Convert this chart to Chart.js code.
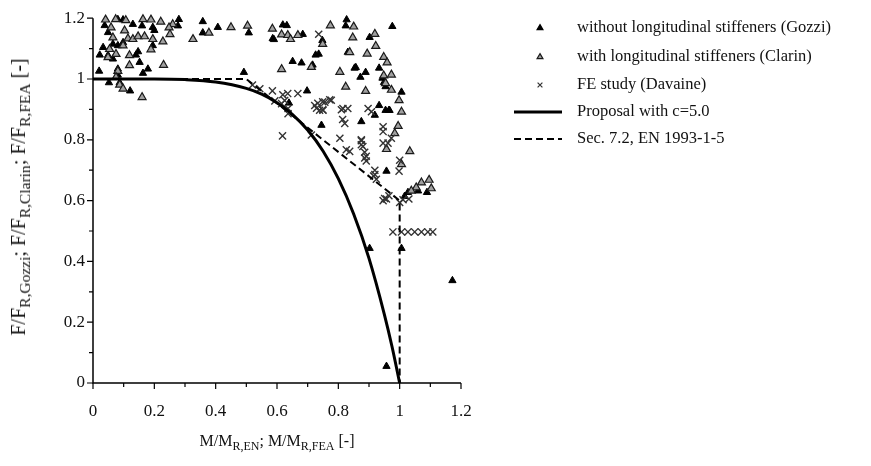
<!DOCTYPE html>
<html>
<head>
<meta charset="utf-8">
<script src="https://cdn.jsdelivr.net/npm/chart.js@4.4.1/dist/chart.umd.min.js"></script>
<style>
  body { margin: 0; background: #fff; }
  #wrap { position: relative; width: 871px; height: 466px; font-family: 'Liberation Serif', 'DejaVu Serif', serif; color: #111; }
  canvas { position: absolute; left: 0; top: 0; }
  .lbl { position: absolute; white-space: nowrap; font-size: 16px; line-height: 1; }
  .lbl sub { font-size: 12px; vertical-align: -4px; line-height: 0; }
  #ytitle { left: 18px; top: 197px; font-size: 20px; transform: translate(-50%, -50%) rotate(-90deg); }
  #ytitle sub { font-size: 15.5px; vertical-align: -5px; }
  #xtitle { left: 277px; top: 441px; transform: translate(-50%, -50%); }
  .leg { position: absolute; left: 577px; font-size: 16.5px; line-height: 1; transform: translateY(-55%); white-space: nowrap; }
</style>
</head>
<body>
<div id="wrap">
  <canvas id="chart" width="871" height="466"></canvas>
  <div id="ytitle" class="lbl">F/F<sub>R,Gozzi</sub>; F/F<sub>R,Clarin</sub>; F/F<sub>R,FEA</sub> [-]</div>
  <div id="xtitle" class="lbl">M/M<sub>R,EN</sub>; M/M<sub>R,FEA</sub> [-]</div>
</div>
<script>
// ---- data ----
const xTicks = [0, 0.2, 0.4, 0.6, 0.8, 1, 1.2];
const yTicks = [0, 0.2, 0.4, 0.6, 0.8, 1, 1.2];

// without longitudinal stiffeners (Gozzi)
const gozziX = [0.038, 0.081, 0.098, 0.13, 0.16, 0.195, 0.2, 0.28, 0.277, 0.049, 0.033, 0.022, 0.065, 0.081, 0.098,
  0.147, 0.14, 0.195, 0.152, 0.179, 0.163, 0.02, 0.081, 0.081, 0.052, 0.087, 0.121, 0.065, 0.049,
  0.358, 0.407, 0.358, 0.508, 0.492, 0.619, 0.59, 0.632, 0.586, 0.684, 0.748, 0.827, 0.824, 0.726, 0.736, 0.831,
  0.651, 0.68, 0.716, 0.853, 0.698, 0.639, 0.976, 0.902, 0.933, 0.857, 0.889, 0.872, 0.944, 1.006, 0.933, 0.967,
  0.954, 0.949, 0.954, 0.965, 0.919, 0.875, 0.957, 1.06, 1.089, 1.027, 1.016, 1.006, 1.172, 0.902, 0.957, 0.745];
const gozziY = [1.176, 1.196, 1.195, 1.18, 1.175, 1.17, 1.16, 1.196, 1.175, 1.153, 1.104, 1.079, 1.115, 1.11, 1.12,
  1.09, 1.079, 1.11, 1.055, 1.033, 1.019, 1.026, 1.033, 1.013, 0.988, 0.988, 0.961, 1.066, 1.078,
  1.189, 1.17, 1.152, 1.152, 1.022, 1.178, 1.13, 1.176, 1.133, 1.147, 1.127, 1.195, 1.175, 1.079, 1.082, 1.088,
  1.058, 1.053, 1.046, 1.036, 0.961, 0.921, 1.173, 1.137, 1.036, 1.038, 1.022, 1.006, 1.003, 0.957, 0.913, 0.897,
  0.975, 0.989, 0.897, 0.897, 0.881, 0.86, 0.697, 0.632, 0.627, 0.627, 0.614, 0.443, 0.337, 0.443, 0.055, 0.848];

// with longitudinal stiffeners (Clarin)
const clarinX = [0.041, 0.074, 0.163, 0.107, 0.189, 0.221, 0.26, 0.248, 0.251, 0.059, 0.103, 0.065, 0.114, 0.13,
  0.147, 0.168, 0.195, 0.228, 0.189, 0.326, 0.054, 0.075, 0.049, 0.119, 0.119, 0.23, 0.081, 0.075, 0.087, 0.098,
  0.16, 0.098, 0.378, 0.45, 0.504, 0.615, 0.585, 0.615, 0.635, 0.644, 0.668, 0.749, 0.774, 0.85, 0.847, 0.837,
  0.712, 0.805, 0.824, 0.919, 0.922, 0.894, 0.948, 0.959, 0.948, 0.973, 0.954, 0.889, 0.973, 0.998, 1.006, 0.995,
  0.984, 0.957, 1.033, 1.006, 1.096, 1.071, 1.103, 1.054, 1.038];
const clarinY = [1.195, 1.196, 1.196, 1.193, 1.195, 1.188, 1.18, 1.169, 1.147, 1.169, 1.159, 1.136, 1.133, 1.131,
  1.14, 1.14, 1.131, 1.123, 1.097, 1.131, 1.098, 1.082, 1.071, 1.078, 1.045, 1.046, 1.026, 1.006, 0.981, 0.968,
  0.94, 1.11, 1.152, 1.17, 1.175, 1.032, 1.165, 1.146, 1.144, 1.131, 1.144, 1.115, 1.176, 1.172, 1.136, 1.088,
  1.039, 1.023, 0.974, 1.148, 1.108, 1.083, 1.072, 1.054, 1.011, 1.014, 0.986, 0.96, 0.964, 0.93, 0.892, 0.845,
  0.821, 0.769, 0.762, 0.719, 0.668, 0.659, 0.64, 0.643, 0.632];

// FE study (Davaine)
const davaineX = [0.736, 0.585, 0.619, 0.635, 0.668, 0.625, 0.733, 0.749, 0.772, 0.729, 0.749, 0.81, 0.831, 0.814,
  0.897, 0.908, 0.946, 0.946, 0.973, 0.946, 0.962, 0.875, 0.88, 0.886, 0.886, 0.837, 1.0, 0.998, 0.919, 0.915,
  0.951, 0.965, 1.011, 1.03, 0.978, 1.006, 1.027, 1.049, 1.071, 1.092, 1.108, 0.618, 0.821, 0.805, 0.826, 0.875,
  0.875, 0.891, 0.891, 0.919, 0.924, 0.957, 0.946, 1.0, 0.593, 0.615, 0.636, 0.636, 0.723, 0.739, 0.756, 0.777,
  0.75, 0.815, 0.712, 0.52, 0.544];
const davaineY = [1.147, 0.961, 0.948, 0.952, 0.952, 0.929, 0.92, 0.925, 0.932, 0.904, 0.899, 0.899, 0.903, 0.867,
  0.903, 0.892, 0.843, 0.827, 0.805, 0.789, 0.789, 0.797, 0.778, 0.759, 0.74, 0.762, 0.733, 0.697, 0.7, 0.681,
  0.607, 0.616, 0.603, 0.605, 0.497, 0.497, 0.497, 0.497, 0.497, 0.497, 0.497, 0.813, 0.854, 0.805, 0.767, 0.8,
  0.784, 0.746, 0.73, 0.686, 0.67, 0.605, 0.6, 0.594, 0.928, 0.919, 0.903, 0.886, 0.913, 0.897, 0.924, 0.93,
  0.897, 0.903, 0.816, 0.98, 0.968];

// Proposal with c=5.0 (solid curve)
const proposalX = [0, 0.2, 0.3, 0.4, 0.5, 0.55, 0.6, 0.65, 0.7, 0.75, 0.8, 0.85, 0.9, 0.95, 0.975, 1.0];
const proposalY = [1, 1, 0.998, 0.99, 0.969, 0.95, 0.922, 0.884, 0.832, 0.763, 0.672, 0.556, 0.41, 0.226, 0.12, 0];

// Sec. 7.2, EN 1993-1-5 (dashed)
const enX = [0, 0.5, 1.0, 1.0];
const enY = [1, 1, 0.6, 0];

const labels = ['without longitudinal stiffeners (Gozzi)', 'with longitudinal stiffeners (Clarin)',
  'FE study (Davaine)', 'Proposal with c=5.0', 'Sec. 7.2, EN 1993-1-5'];

function pts(xs, ys) { return xs.map((x, i) => ({ x: x, y: ys[i] })); }

const FONT = "'Liberation Serif', 'DejaVu Serif', serif";
const legendRows = [28, 57, 85, 112, 139];
const legendOrder = [4, 3, 2, 0, 1];   // dataset index shown on each legend row

// axis lines, major/minor ticks, and the legend markers
const axesPlugin = {
  id: 'axesPlugin',
  afterDraw(chart) {
    const ctx = chart.ctx;
    const xs = chart.scales.x, ys = chart.scales.y;
    const a = chart.chartArea;
    ctx.save();
    ctx.strokeStyle = '#000';
    ctx.lineWidth = 1.5;
    ctx.beginPath();
    ctx.moveTo(a.left, a.top); ctx.lineTo(a.left, a.bottom); ctx.lineTo(a.right, a.bottom);
    ctx.stroke();
    ctx.lineWidth = 1.2;
    for (let i = 0; i <= 12; i++) {
      const v = i / 10, len = i % 2 === 0 ? 6 : 4;
      const px = xs.getPixelForValue(v), py = ys.getPixelForValue(v);
      ctx.beginPath();
      ctx.moveTo(px, a.bottom); ctx.lineTo(px, a.bottom + len);
      ctx.moveTo(a.left, py); ctx.lineTo(a.left - len, py);
      ctx.stroke();
    }
    // legend markers
    legendOrder.forEach((di, r) => {
      const ds = chart.data.datasets[di];
      const y = legendRows[r];
      if (ds.showLine) {
        ctx.strokeStyle = '#000';
        ctx.lineWidth = ds.borderWidth;
        ctx.setLineDash(ds.borderDash || []);
        ctx.beginPath(); ctx.moveTo(514, y); ctx.lineTo(562, y); ctx.stroke();
        ctx.setLineDash([]);
      } else {
        ctx.fillStyle = ds.pointBackgroundColor;
        ctx.strokeStyle = ds.pointBorderColor;
        Chart.helpers.drawPoint(ctx, { pointStyle: ds.pointStyle, radius: 3.4, borderWidth: ds.pointBorderWidth, rotation: 0 }, 540, y);
      }
    });
    ctx.restore();
  }
};

const chart = new Chart(document.getElementById('chart'), {
  type: 'scatter',
  data: {
    datasets: [
      {
        label: labels[3], data: pts(proposalX, proposalY), showLine: true, borderColor: '#000',
        borderWidth: 3, pointRadius: 0, cubicInterpolationMode: 'monotone', order: 0
      },
      {
        label: labels[4], data: pts(enX, enY), showLine: true, borderColor: '#000', borderWidth: 2,
        borderDash: [7, 4], pointRadius: 0, tension: 0, order: 1
      },
      {
        label: labels[2], data: pts(davaineX, davaineY), pointStyle: 'crossRot', pointRadius: 5,
        pointBorderColor: '#333', pointBackgroundColor: '#333', pointBorderWidth: 1.4, order: 2
      },
      {
        label: labels[1], data: pts(clarinX, clarinY), pointStyle: 'triangle', pointRadius: 4.6,
        pointBackgroundColor: '#a0a0a0', pointBorderColor: '#1a1a1a', pointBorderWidth: 1.2, order: 3
      },
      {
        label: labels[0], data: pts(gozziX, gozziY), pointStyle: 'triangle', pointRadius: 4.2,
        pointBackgroundColor: '#000', pointBorderColor: '#000', pointBorderWidth: 1, order: 4
      }
    ]
  },
  options: {
    responsive: false,
    animation: false,
    clip: false,
    layout: { padding: { left: 0, top: 13, right: 410, bottom: 0 } },
    plugins: { legend: { display: false }, tooltip: { enabled: false } },
    scales: {
      x: {
        type: 'linear', min: 0, max: 1.2,
        afterFit(s) { s.height = 83; },
        afterBuildTicks(s) { s.ticks = xTicks.map(v => ({ value: v })); },
        grid: { display: false, drawTicks: false },
        border: { display: false },
        ticks: {
          padding: 18, maxRotation: 0, autoSkip: false, color: '#111',
          font: { family: FONT, size: 17 },
          callback: v => String(Number(v.toFixed(1)))
        }
      },
      y: {
        type: 'linear', min: 0, max: 1.2,
        afterFit(s) { s.width = 93; },
        afterBuildTicks(s) { s.ticks = yTicks.map(v => ({ value: v })); },
        grid: { display: false, drawTicks: false },
        border: { display: false },
        ticks: {
          padding: 8, autoSkip: false, color: '#111',
          font: { family: FONT, size: 17 },
          callback: v => String(Number(v.toFixed(1)))
        }
      }
    }
  },
  plugins: [axesPlugin]
});

// legend texts as real text
legendOrder.forEach((di, r) => {
  const el = document.createElement('div');
  el.className = 'leg';
  el.style.top = legendRows[r] + 'px';
  el.textContent = chart.data.datasets[di].label;
  document.getElementById('wrap').appendChild(el);
});
</script>
</body>
</html>
